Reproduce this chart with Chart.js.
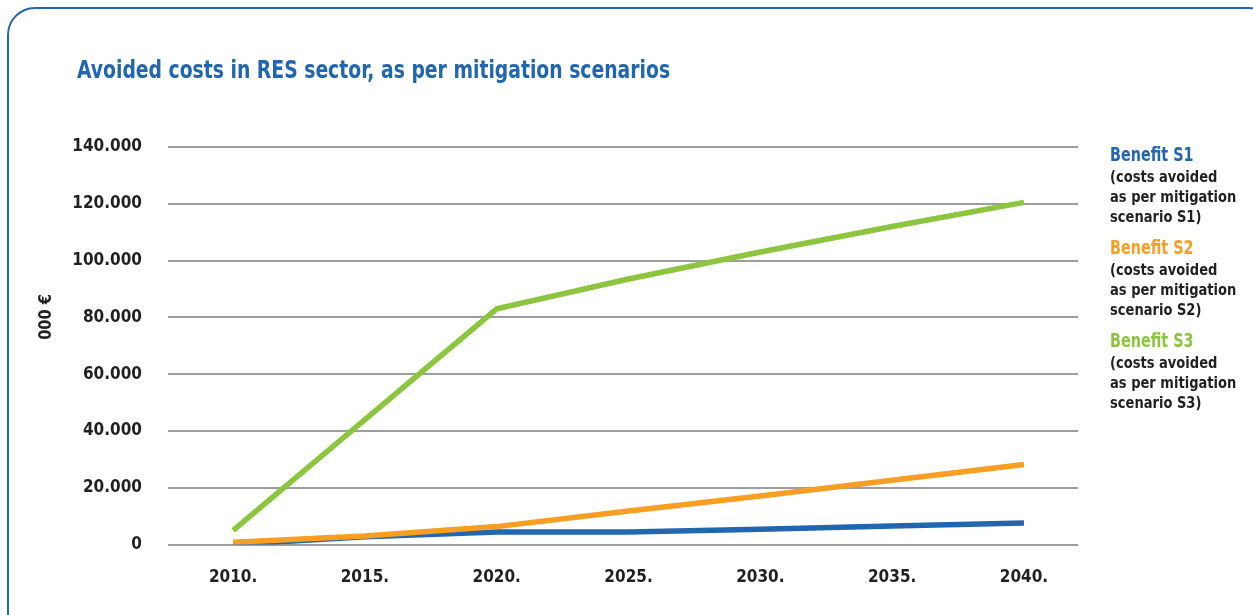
<!DOCTYPE html>
<html>
<head>
<meta charset="utf-8">
<title>Avoided costs in RES sector</title>
<script src="https://cdn.jsdelivr.net/npm/chart.js@4.4.1/dist/chart.umd.min.js"></script>
<style>
  html, body { margin: 0; padding: 0; background: #fff; overflow: hidden; }
  #frame {
    position: absolute; left: 7px; top: 7px; width: 1270px; height: 640px;
    border: 2px solid #2166b0; border-radius: 28px; box-sizing: border-box;
  }
  #chart { position: absolute; left: 0; top: 0; }
</style>
</head>
<body>
<div id="frame"></div>
<canvas id="chart" width="1253" height="615"></canvas>
<script>
const years = [2010, 2015, 2020, 2025, 2030, 2035, 2040];
const benefitS1 = [0, 2700, 4400, 4400, 5400, 6500, 7600];
const benefitS2 = [800, 3000, 6300, 11800, 17100, 22600, 28200];
const benefitS3 = [5000, 44000, 83000, 93500, 103000, 112000, 120500];
const yTicks = [0, 20000, 40000, 60000, 80000, 100000, 120000, 140000];

const seriesNames = ['Benefit S1', 'Benefit S2', 'Benefit S3'];
const seriesNotes = [
    ['(costs avoided', 'as per mitigation', 'scenario S1)'],
    ['(costs avoided', 'as per mitigation', 'scenario S2)'],
    ['(costs avoided', 'as per mitigation', 'scenario S3)']
];
const chartTitle = 'Avoided costs in RES sector, as per mitigation scenarios';
const unitLabel = '000 €';

const FONT = '"Liberation Sans Narrow", "DejaVu Sans Condensed", "Roboto Condensed", "Liberation Sans", sans-serif';
const BLUE = '#2166b0';
const ORANGE = '#f89e22';
const GREEN = '#8cc63e';
const INK = '#231f20';

function points(values) {
    return values.map((v, i) => ({ x: years[i], y: v }));
}

// squeeze text horizontally so the wide fallback font looks condensed
function narrowText(ctx, text, x, y, squeeze) {
    ctx.save();
    ctx.translate(x, y);
    ctx.scale(squeeze, 1);
    ctx.fillText(text, 0, 0);
    ctx.restore();
}

// title, unit label and the side legend are plain canvas text
const sideText = {
    id: 'sideText',
    afterDraw(chart) {
        const ctx = chart.ctx;
        ctx.save();
        ctx.textBaseline = 'middle';
        ctx.textAlign = 'left';

        ctx.fillStyle = BLUE;
        ctx.font = 'bold 24px ' + FONT;
        narrowText(ctx, chartTitle, 77, 72, 0.87);

        ctx.save();
        ctx.translate(46, 317);
        ctx.rotate(-Math.PI / 2);
        ctx.textAlign = 'center';
        ctx.fillStyle = INK;
        ctx.font = 'bold 18px ' + FONT;
        narrowText(ctx, unitLabel, 0, 0, 0.9);
        ctx.restore();

        chart.data.datasets.forEach((ds, i) => {
            let y = 156 + i * 93;
            ctx.fillStyle = ds.borderColor;
            ctx.font = 'bold 19px ' + FONT;
            narrowText(ctx, seriesNames[i], 1110, y, 0.84);
            ctx.fillStyle = INK;
            ctx.font = 'bold 16.5px ' + FONT;
            seriesNotes[i].forEach((line, j) => {
                narrowText(ctx, line, 1110, y + 22 + j * 20, 0.88);
            });
        });
        ctx.restore();
    }
};

new Chart(document.getElementById('chart'), {
    type: 'line',
    data: {
        datasets: [
            { label: seriesNames[0], data: points(benefitS1), borderColor: BLUE, order: 3 },
            { label: seriesNames[1], data: points(benefitS2), borderColor: ORANGE, order: 2 },
            { label: seriesNames[2], data: points(benefitS3), borderColor: GREEN, order: 1 }
        ]
    },
    options: {
        responsive: false,
        animation: false,
        devicePixelRatio: 1,
        layout: { padding: { left: 0, top: 147, right: 175, bottom: 0 } },
        elements: {
            line: { borderWidth: 5.5, tension: 0, borderCapStyle: 'butt', fill: false },
            point: { radius: 0, hoverRadius: 0 }
        },
        plugins: {
            legend: { display: false },
            tooltip: { enabled: false },
            title: { display: false }
        },
        scales: {
            x: {
                type: 'linear',
                min: 2007.53,
                max: 2042.05,
                grid: { display: false },
                border: { display: false },
                afterBuildTicks: (scale) => { scale.ticks = years.map(v => ({ value: v })); },
                afterFit: (scale) => { scale.height = 70.5; },
                ticks: {
                    padding: 15,
                    color: INK,
                    font: { family: FONT, size: 17, weight: 'bold' },
                    callback: (v) => v + '.'
                }
            },
            y: {
                min: 0,
                max: 140000,
                grid: { color: '#9d9d9d', lineWidth: 2, drawTicks: false },
                border: { display: false },
                afterBuildTicks: (scale) => { scale.ticks = yTicks.map(v => ({ value: v })); },
                afterFit: (scale) => { scale.width = 168; },
                ticks: {
                    padding: 26,
                    color: INK,
                    font: { family: FONT, size: 17, weight: 'bold' },
                    callback: (v) => v === 0 ? '0' : (v / 1000) + '.000'
                }
            }
        }
    },
    plugins: [sideText]
});
</script>
</body>
</html>
